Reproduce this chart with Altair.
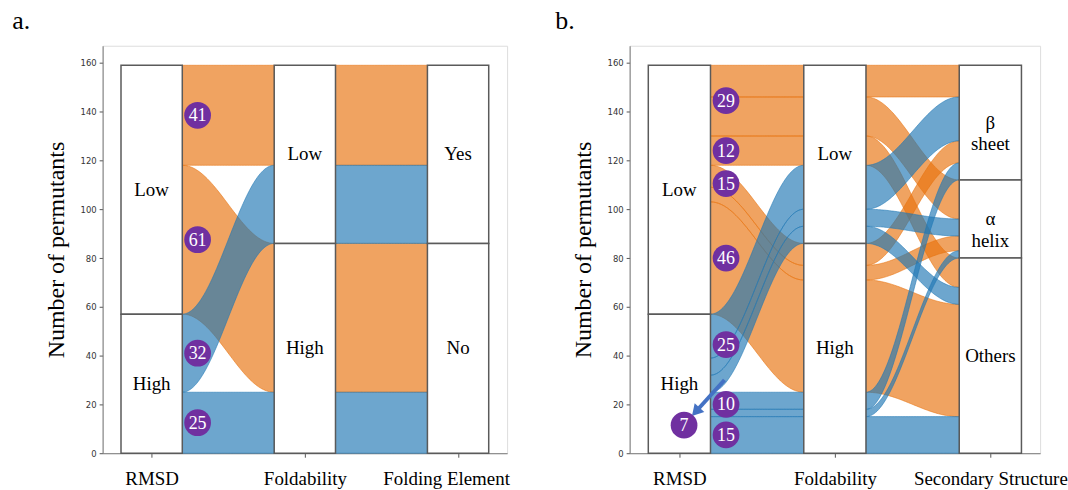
import math
import numpy as np
import pandas as pd
import altair as alt

# ---------------- data ----------------
RMSD = ["Low", "High"]
FOLD = ["Low", "High"]
SS = ["β\nsheet", "α\nhelix", "Others"]
FE = ["Yes", "No"]

# permutants per (RMSD, Foldability), split by secondary structure [β sheet, α helix, Others]
low_low = [13, 16, 12]
low_high = [9, 6, 46]
high_low = [18, 7, 7]
high_high = [7, 3, 15]

y_ticks = [0, 20, 40, 60, 80, 100, 120, 140, 160]
names_a = ["RMSD", "Foldability", "Folding Element"]
names_b = ["RMSD", "Foldability", "Secondary Structure"]

counts = {("Low", "Low"): low_low, ("Low", "High"): low_high,
          ("High", "Low"): high_low, ("High", "High"): high_high}

# ---------------- style ----------------
ORANGE = "#e8720c"
BLUE = "#1f77b4"
PURPLE = "#7030a0"
ARROW = "#4472c4"
SERIF = "Liberation Serif"
HALF = 0.2          # half width of a node column
N_PTS = 60
Y_MAX = 167
X_DOM = [-0.32, 2.32]


def stack(order, size):
    out, top = {}, sum(size(k) for k in order)
    for k in order:
        out[k] = (top, top - size(k))
        top -= size(k)
    return out


def ribbons(src, dst, col, tag):
    rows = []
    xa, xb = col + HALF, col + 1 - HALF
    for k in src:
        t0, b0 = src[k]
        t1, b1 = dst[k]
        for t in np.linspace(0, 1, N_PTS):
            s = (1 - math.cos(math.pi * t)) / 2
            rows.append({"band": f"{tag}-{col}-{'-'.join(k)}", "rmsd": k[0],
                         "x": xa + (xb - xa) * t,
                         "top": t0 + (t1 - t0) * s, "bot": b0 + (b1 - b0) * s})
    return rows


def node_rows(col, segs):
    rows = []
    top = sum(v for _, v in segs)
    for name, v in segs:
        rows.append({"x": col - HALF, "x1": col + HALF, "xc": col,
                     "top": top, "bot": top - v, "mid": top - v / 2, "label": name})
        top -= v
    return rows


# ---- panel a (aggregated) ----
pairs = [(r, f) for r in RMSD for f in FOLD]
tot = {k: sum(counts[k]) for k in pairs}
a_rmsd = stack([(r, f) for r in RMSD for f in FOLD], lambda k: tot[k])
a_fold = stack([(r, f) for f in FOLD for r in RMSD], lambda k: tot[k])
a_flows = pd.DataFrame(ribbons(a_rmsd, a_fold, 0, "a") + ribbons(a_fold, a_fold, 1, "a"))
a_nodes = pd.DataFrame(
    node_rows(0, [(r, sum(tot[(r, f)] for f in FOLD)) for r in RMSD])
    + node_rows(1, [(f, sum(tot[(r, f)] for r in RMSD)) for f in FOLD])
    + node_rows(2, [(e, sum(tot[(r, f)] for r in RMSD)) for e, f in zip(FE, FOLD)]))
a_circ = pd.DataFrame([{"x": HALF + 0.1, "top": (a_rmsd[k][0] + a_rmsd[k][1]) / 2,
                        "n": str(tot[k])} for k in pairs])

# ---- panel b (split by secondary structure) ----
keys = [(r, f, s) for r in RMSD for f in FOLD for s in SS]
val = {(r, f, s): counts[(r, f)][SS.index(s)] for r, f, s in keys}
b_rmsd = stack([(r, f, s) for r in RMSD for f in FOLD for s in SS], lambda k: val[k])
b_fold = stack([(r, f, s) for f in FOLD for r in RMSD for s in SS], lambda k: val[k])
b_ss = stack([(r, f, s) for s in SS for f in FOLD for r in RMSD], lambda k: val[k])
b_flows = pd.DataFrame(ribbons(b_rmsd, b_fold, 0, "b") + ribbons(b_fold, b_ss, 1, "b"))
b_nodes = pd.DataFrame(
    node_rows(0, [(r, sum(tot[(r, f)] for f in FOLD)) for r in RMSD])
    + node_rows(1, [(f, sum(tot[(r, f)] for r in RMSD)) for f in FOLD])
    + node_rows(2, [(s, sum(val[(r, f, s)] for r in RMSD for f in FOLD)) for s in SS]))

CALLOUT = ("High", "Low")   # the 'Others' group of this pair is called out with an arrow
circ_rows, arrow_rows = [], []
for k in pairs:
    r, f = k
    beta, alpha, oth = (r, f, SS[0]), (r, f, SS[1]), (r, f, SS[2])
    top_s, bot_s = b_rmsd[beta][0], b_rmsd[alpha][1]
    circ_rows.append({"x": HALF + 0.1, "top": (top_s + bot_s) / 2,
                      "n": str(val[beta] + val[alpha])})
    yo = (b_rmsd[oth][0] + b_rmsd[oth][1]) / 2
    if k == CALLOUT:
        cx, cy = 0.03, yo - 17
        circ_rows.append({"x": cx, "top": cy, "n": str(val[oth])})
        arrow_rows.append({"x": HALF + 0.09, "top": yo + 1.5, "x1": cx + 0.075, "bot": cy + 5.5})
    else:
        circ_rows.append({"x": HALF + 0.1, "top": yo, "n": str(val[oth])})
b_circ = pd.DataFrame(circ_rows)
b_arrow = pd.DataFrame(arrow_rows)


# ---------------- chart ----------------
def panel(flows, nodes, circ, names, width, height, title, title_dx, arrow=None,
          last_label_shift=0):
    label_expr = "[" + ",".join(f"'{n}'" for n in names) + "][datum.value]"
    x_axis = alt.Axis(values=[0, 1, 2], labelExpr=label_expr, title=None,
                      labelFont=SERIF, labelFontSize=19, labelColor="black",
                      labelOffset={"condition": {"test": "datum.value == 2",
                                                 "value": last_label_shift},
                                   "value": 0},
                      labelPadding=12, tickSize=4, tickColor="#555",
                      domainColor="#7a7a7a", grid=False, labelFlush=False)
    y_axis = alt.Axis(values=y_ticks, title="Number of permutants",
                      titleFont=SERIF, titleFontSize=24, titleFontWeight="normal",
                      titleColor="black", titlePadding=12,
                      labelFont="DejaVu Sans", labelFontSize=8.5, labelColor="#333",
                      labelPadding=3, tickSize=3.5, tickColor="#555",
                      domainColor="#7a7a7a", grid=False)

    def X(field):
        return alt.X(field, type="quantitative",
                     scale=alt.Scale(domain=X_DOM, nice=False, zero=False), axis=x_axis)

    def Y(field):
        return alt.Y(field, type="quantitative",
                     scale=alt.Scale(domain=[0, Y_MAX], nice=False), axis=y_axis, stack=None)

    cscale = alt.Scale(domain=RMSD, range=[ORANGE, BLUE])
    col = alt.Color("rmsd:N", scale=cscale, legend=None)
    stroke = alt.Stroke("rmsd:N", scale=cscale, legend=None)

    base = alt.Chart(flows)
    layers = []
    for r in RMSD:
        layers.append(base.transform_filter(alt.datum.rmsd == r).mark_area(
            fillOpacity=0.65, strokeOpacity=0.55, strokeWidth=1, interpolate="linear"
        ).encode(x=X("x"), y=Y("top"), y2="bot:Q", detail="band:N", color=col, stroke=stroke))

    nb = alt.Chart(nodes)
    layers.append(nb.mark_rect(fill="white", stroke="#5a5a5a", strokeWidth=1.5).encode(
        x=X("x"), x2="x1:Q", y=Y("top"), y2="bot:Q"))
    layers.append(nb.mark_text(font=SERIF, fontSize=19, color="black", lineBreak="\n",
                               lineHeight=22, baseline="middle").encode(
        x=X("xc"), y=Y("mid"), text="label:N"))

    if arrow is not None:
        ab = alt.Chart(arrow)
        layers.append(ab.mark_rule(color=ARROW, strokeWidth=4).encode(
            x=X("x"), y=Y("top"), x2="x1:Q", y2="bot:Q"))
        px_x = width / (X_DOM[1] - X_DOM[0])
        px_y = height / Y_MAX
        dxp = (arrow["x1"].iloc[0] - arrow["x"].iloc[0]) * px_x
        dyp = -(arrow["bot"].iloc[0] - arrow["top"].iloc[0]) * px_y
        ang = (math.degrees(math.atan2(dxp, -dyp)) + 360) % 360
        layers.append(ab.mark_point(shape="triangle-up", filled=True, color=ARROW, opacity=1,
                                    size=170, angle=ang).encode(
            x=X("x1"), y=Y("bot")))

    cb = alt.Chart(circ)
    layers.append(cb.mark_circle(size=720, color=PURPLE, opacity=1).encode(
        x=X("x"), y=Y("top")))
    layers.append(cb.mark_text(font=SERIF, fontSize=18, color="white", baseline="middle",
                               dy=1).encode(x=X("x"), y=Y("top"), text="n:N"))

    return alt.layer(*layers).properties(
        width=width, height=height,
        title=alt.TitleParams(title, anchor="start", frame="bounds", dx=title_dx,
                              font=SERIF, fontSize=26, fontWeight="normal",
                              color="black", offset=12))


pa = panel(a_flows, a_nodes, a_circ, names_a, 406, 409, "a.", -32, last_label_shift=-12)
pb = panel(b_flows, b_nodes, b_circ, names_b, 412, 409, "b.", -16, b_arrow)

chart = alt.hconcat(pa, pb, spacing=44).properties(
    padding={"left": 11, "top": 6, "right": 0, "bottom": 0}
).configure_view(stroke="#7a7a7a", strokeWidth=1).configure_axisX(
    labelFont=SERIF
).configure(background="white")

chart.save("out.html", embed_options={"renderer": "svg", "actions": False})
